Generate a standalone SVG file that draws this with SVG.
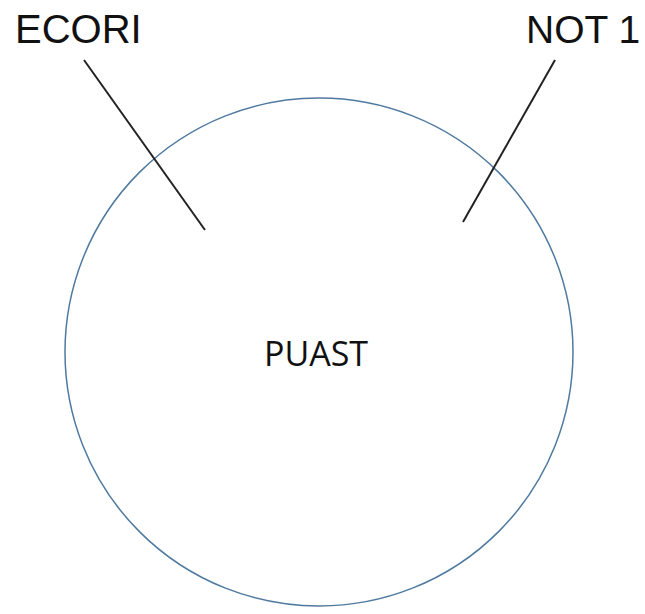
<svg xmlns="http://www.w3.org/2000/svg" width="645" height="614" viewBox="0 0 645 614">
<style>
.lbl{font-family:"Liberation Sans",Arial,sans-serif;font-size:39px;fill:#111}
.ctr{font-family:"Open Sans","Noto Sans",sans-serif;font-size:34px;fill:#111}
.ln{stroke:#222;stroke-width:2;fill:none}
</style>
<rect width="645" height="614" fill="#fff"/>
<g id="plasmid">
<circle cx="319" cy="352" r="254" fill="none" stroke="#4f7aa0" stroke-width="1.5"/>
<text class="ctr" x="316" y="366" text-anchor="middle">PUAST</text>
</g>
<g id="ecori"><text class="lbl" x="15" y="43" style="font-size:40px">ECORI</text></g>
<g id="not1"><text class="lbl" x="526" y="43">NOT 1</text></g>
<g id="connectors">
<line class="ln" x1="84" y1="60" x2="205" y2="230"/>
<line class="ln" x1="555" y1="60" x2="463" y2="222"/>
</g>
</svg>
